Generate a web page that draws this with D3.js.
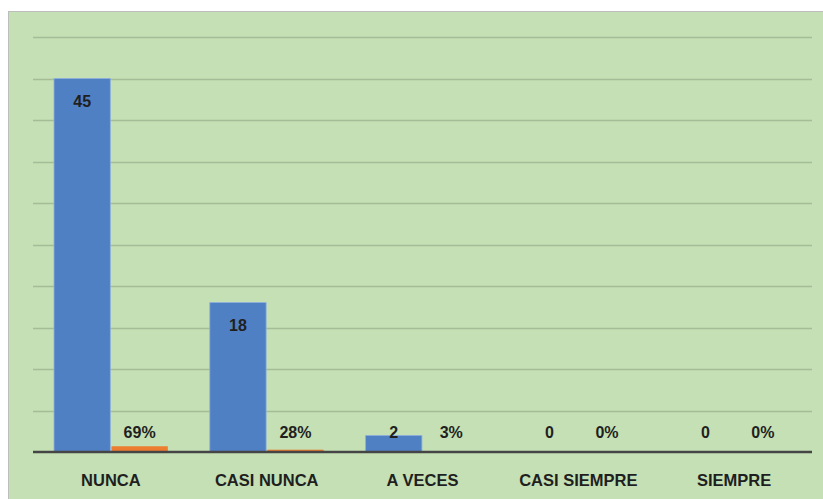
<!DOCTYPE html>
<html>
<head>
<meta charset="utf-8">
<script src="https://cdn.jsdelivr.net/npm/d3@7"></script>
<style>
  body { margin: 0; background: #fff; }
  text { font-family: "Liberation Sans", Arial, sans-serif; font-weight: bold; fill: #1f1f1f; }
</style>
</head>
<body>
<div id="chart"></div>
<script>
// data
const categories = ["NUNCA", "CASI NUNCA", "A VECES", "CASI SIEMPRE", "SIEMPRE"]
const counts = [45, 18, 2, 0, 0]
const percents = [0.69, 0.28, 0.03, 0, 0] // plotted on the same axis, as in the original
const percentLabels = ["69%", "28%", "3%", "0%", "0%"]
const yTicks = [0, 5, 10, 15, 20, 25, 30, 35, 40, 45, 50]

const width = 823, height = 499
const plot = { left: 33, right: 812, top: 37, bottom: 452 }

const svg = d3.select("#chart").append("svg")
    .attr("width", width)
    .attr("height", height)

// chart area background
svg.append("rect")
    .attr("x", 8.5).attr("y", 11.5)
    .attr("width", width - 8).attr("height", height - 11)
    .attr("fill", "#c5e0b4")
    .attr("stroke", "#bdbdbd")

const x = d3.scaleBand()
    .domain(categories)
    .range([plot.left, plot.right])
    .paddingInner(0)
    .paddingOuter(0)

const y = d3.scaleLinear()
    .domain([0, 50])
    .range([plot.bottom, plot.top])

// inner band for the two series
const series = ["count", "pct"]
const x1 = d3.scaleBand()
    .domain(series)
    .range([21, x.bandwidth() - 21])
    .paddingInner(0.02)

//gridlines
svg.append("g")
    .selectAll("line")
    .data(yTicks.slice(1))
    .enter().append("line")
    .attr("x1", plot.left).attr("x2", plot.right)
    .attr("y1", d => Math.round(y(d)) + 0.5)
    .attr("y2", d => Math.round(y(d)) + 0.5)
    .attr("stroke", "#a6bc99")
    .attr("stroke-width", 1.3)

const groups = svg.append("g")
    .selectAll("g")
    .data(categories)
    .enter().append("g")
    .attr("transform", d => "translate(" + x(d) + ",0)")

// blue bars
groups.append("rect")
    .attr("x", x1("count"))
    .attr("width", x1.bandwidth())
    .attr("y", (d, i) => y(counts[i]))
    .attr("height", (d, i) => y(0) - y(counts[i]))
    .attr("fill", "#5080c4")
    .attr("stroke", "#8fb0dd")
    .attr("stroke-width", 0.8)

// orange bars
groups.append("rect")
    .attr("x", x1("pct"))
    .attr("width", x1.bandwidth())
    .attr("y", (d, i) => y(percents[i]))
    .attr("height", (d, i) => y(0) - y(percents[i]))
    .attr("fill", "#ed7d31")

// labels, inside end but never below the baseline area
const labelY = v => Math.min(y(v) + 23, plot.bottom - 20)

groups.append("text")
    .attr("x", x1("count") + x1.bandwidth() / 2)
    .attr("y", (d, i) => labelY(counts[i]))
    .attr("dy", "0.35em")
    .attr("text-anchor", "middle")
    .style("font-size", "16px")
    .text((d, i) => counts[i])

groups.append("text")
    .attr("x", x1("pct") + x1.bandwidth() / 2)
    .attr("y", (d, i) => labelY(percents[i]))
    .attr("dy", "0.35em")
    .attr("text-anchor", "middle")
    .style("font-size", "16px")
    .text((d, i) => percentLabels[i])

// baseline
svg.append("line")
    .attr("x1", plot.left).attr("x2", plot.right)
    .attr("y1", y(0)).attr("y2", y(0))
    .attr("stroke", "#454545")
    .attr("stroke-width", 2.5)

// category labels
svg.append("g")
    .selectAll("text")
    .data(categories)
    .enter().append("text")
    .attr("x", d => x(d) + x.bandwidth() / 2)
    .attr("y", 480)
    .attr("dy", "0.35em")
    .attr("text-anchor", "middle")
    .style("font-size", "16.5px")
    .text(d => d)
</script>
</body>
</html>
